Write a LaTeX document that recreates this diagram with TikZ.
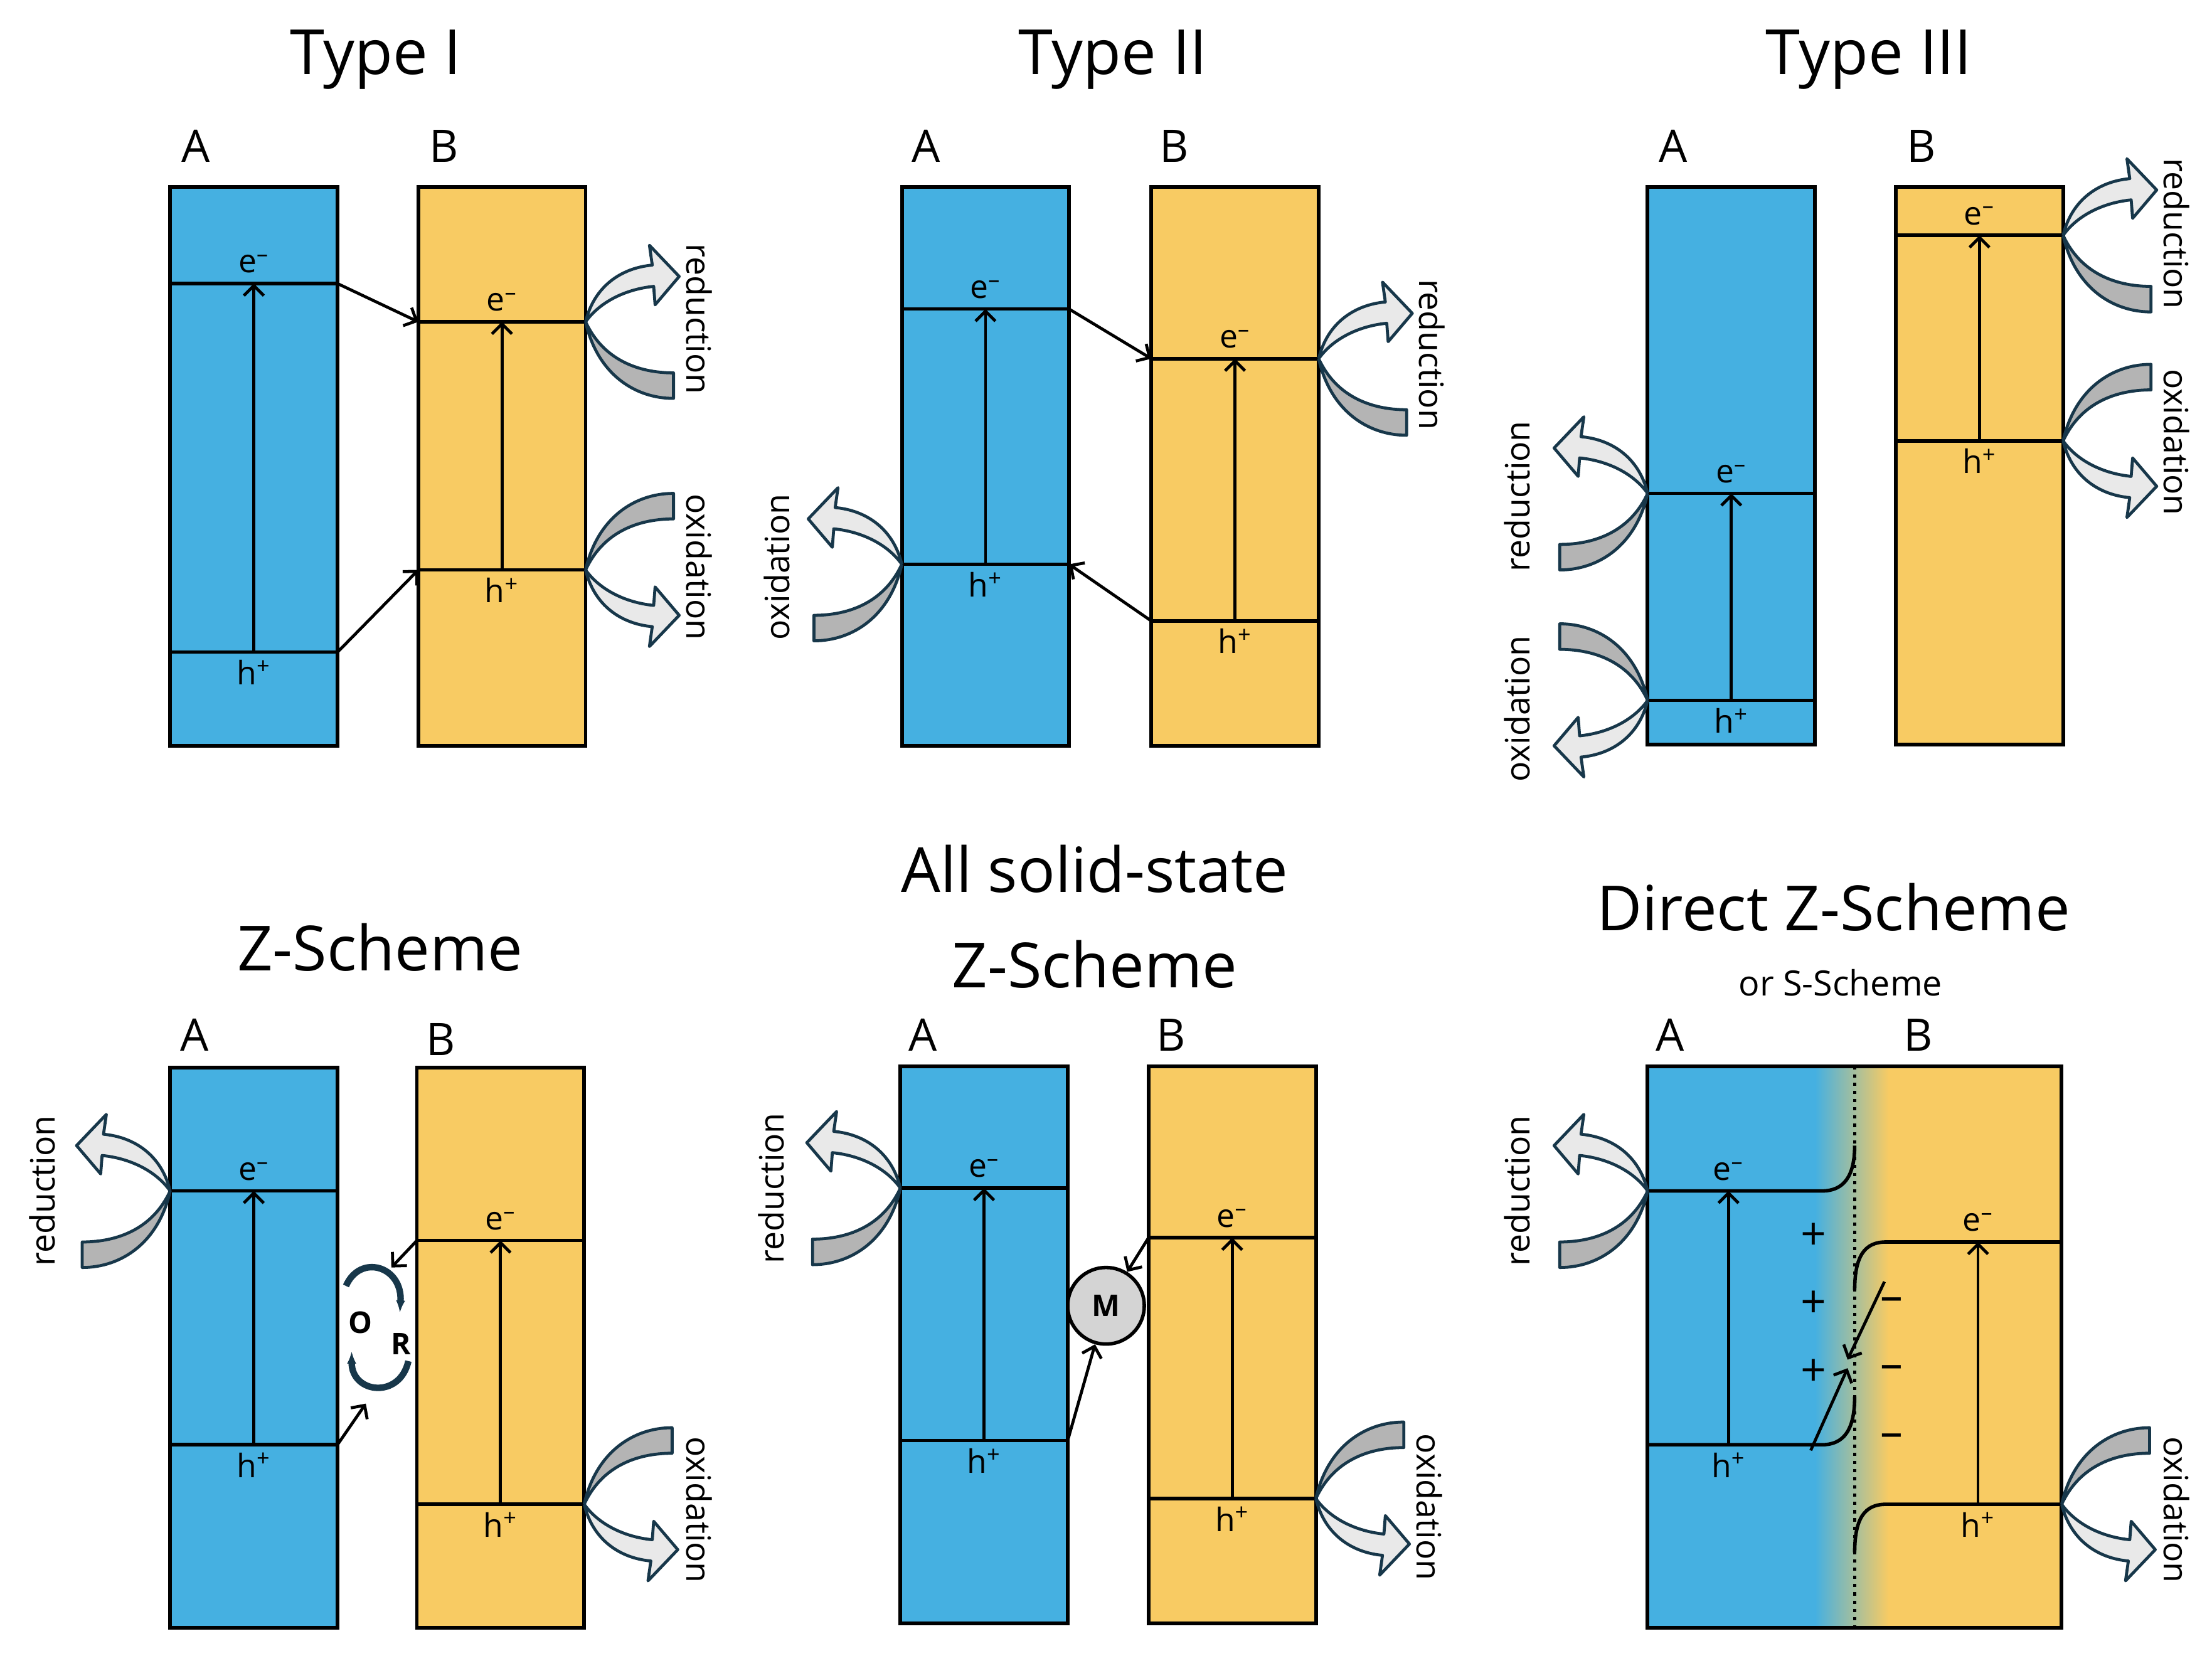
\documentclass[tikz,border=0pt]{standalone}
\usepackage{fontspec}
\setmainfont{Open Sans}
\usetikzlibrary{arrows.meta}
\definecolor{bandA}{HTML}{45B0E1}
\definecolor{bandB}{HTML}{F8CB63}
\definecolor{rdline}{HTML}{17374A}
\definecolor{tailgray}{HTML}{B4B4B4}
\definecolor{headgray}{HTML}{E9E9E9}
\tikzset{
  box/.style={draw=black,line width=1.5pt},
  level/.style={draw=black,line width=1.4pt},
  exc/.style={->,line width=1.2pt},
  redoxline/.style={draw=rdline,line width=1.2pt,line join=round},
  title/.style={font=\fontsize{25}{28}\selectfont},
  sub/.style={font=\fontsize{14}{16}\selectfont},
  side/.style={font=\fontsize{18}{20}\selectfont},
  lbl/.style={font=\fontsize{13}{14}\selectfont,inner sep=1pt},
  proc/.style={font=\fontsize{13.5}{15}\selectfont},
  or/.style={font=\bfseries\fontsize{12}{14}\selectfont,inner sep=0pt},
}
% one band box: name, left x, top, bottom, CB y, VB y, colour
\newcommand{\bandbox}[7]{%
  \fill[#7] (#2,#3) rectangle (#2+118,#4);
  \draw[box] (#2,#3) rectangle (#2+118,#4);
  \coordinate (#1-cl) at (#2,#5);
  \coordinate (#1-cr) at (#2+118,#5);
  \coordinate (#1-vl) at (#2,#6);
  \coordinate (#1-vr) at (#2+118,#6);
  \coordinate (#1-cm) at (#2+59,#5);
  \coordinate (#1-vm) at (#2+59,#6);
  \draw[level] (#1-cl) -- (#1-cr);
  \draw[level] (#1-vl) -- (#1-vr);
  \draw[exc] (#1-vm) -- (#1-cm);
  \node[lbl,above=3pt] (#1-e) at (#1-cm) {e\textsuperscript{–}};
  \node[lbl,below=2pt] (#1-h) at (#1-vm) {h\textsuperscript{+}};
}
% curved redox arrow: x, y, xscale, yscale
\newcommand{\redox}[4]{%
  \begin{scope}[shift={(#1,#2)},xscale=#3,yscale=#4]
    \filldraw[redoxline,fill=tailgray] (0,0) .. controls (8,36) and (34,54) .. (62,54)
      -- (62,36) .. controls (36,36) and (12,26) .. (0,0);
    \filldraw[redoxline,fill=headgray] (0,0) .. controls (6,-25) and (25,-38) .. (47,-40)
      -- (45,-54) -- (66,-32) -- (49,-12) -- (48,-25) .. controls (28,-23) and (10,-14) .. (0,0);
  \end{scope}}
\begin{document}
\begin{tikzpicture}[x=0.02cm,y=-0.02cm,>={Straight Barb[length=4pt,width=8pt]}]
\useasboundingbox (0,0) rectangle (1560,1168);
% Type I
\node[title] (t1) at (265,42) {Type I};
\node[side] (a1) at (138,103) {A};
\node[side] (b1) at (313,103) {B};
\bandbox{A1}{120}{132}{526}{200}{460}{bandA}
\bandbox{B1}{295}{132}{526}{227}{402}{bandB}
\draw[exc] (A1-cr) -- (B1-cl);
\draw[exc] (A1-vr) -- (B1-vl);
\redox{413}{227}{1}{1}
\redox{413}{402}{1}{-1}
\node[proc,rotate=-90] (r1) at (493,225) {reduction};
\node[proc,rotate=-90] (o1) at (493,400) {oxidation};
% Type II
\node[title] (t2) at (785,42) {Type II};
\node[side] (a2) at (653,103) {A};
\node[side] (b2) at (828,103) {B};
\bandbox{A2}{636}{132}{526}{218}{398}{bandA}
\bandbox{B2}{812}{132}{526}{253}{438}{bandB}
\draw[exc] (A2-cr) -- (B2-cl);
\draw[exc] (B2-vl) -- (A2-vr);
\redox{930}{253}{1}{1}
\redox{636}{398}{-1}{1}
\node[proc,rotate=-90] (r2) at (1010,250) {reduction};
\node[proc,rotate=90] (o2) at (548,400) {oxidation};
% Type III
\node[title] (t3) at (1318,42) {Type III};
\node[side] (a3) at (1180,103) {A};
\node[side] (b3) at (1355,103) {B};
\bandbox{A3}{1162}{132}{525}{348}{494}{bandA}
\bandbox{B3}{1337}{132}{525}{166}{311}{bandB}
\redox{1455}{166}{1}{1}
\redox{1455}{311}{1}{-1}
\redox{1162}{348}{-1}{1}
\redox{1162}{494}{-1}{-1}
\node[proc,rotate=-90] (r3) at (1535,165) {reduction};
\node[proc,rotate=-90] (o3) at (1535,312) {oxidation};
\node[proc,rotate=90] (r3l) at (1070,350) {reduction};
\node[proc,rotate=90] (o3l) at (1070,500) {oxidation};
% Z-Scheme
\node[title] (t4) at (268,668) {Z-Scheme};
\node[side] (a4) at (137,730) {A};
\node[side] (b4) at (311,733) {B};
\bandbox{A4}{120}{753}{1148}{840}{1019}{bandA}
\bandbox{B4}{294}{753}{1148}{875}{1061}{bandB}
\node[or] (ox) at (254,933) {O};
\node[or] (rd) at (283,948) {R};
\coordinate (zt) at (276,894);
\coordinate (zb) at (258,990);
\draw[exc] (B4-cl) -- (zt);
\draw[exc] (A4-vr) -- (zb);
\draw[rdline,line width=2.6pt,-{Latex[length=5pt]}] (244,907) .. controls (254,884) and (284,893) .. (282,926);
\draw[rdline,line width=2.6pt,-{Latex[length=5pt]}] (288,960) .. controls (282,987) and (248,983) .. (248,953);
\redox{120}{840}{-1}{1}
\redox{412}{1061}{1}{-1}
\node[proc,rotate=90] (r4) at (30,840) {reduction};
\node[proc,rotate=-90] (o4) at (493,1065) {oxidation};
% All solid-state Z-Scheme
\node[title] (t5a) at (772,613) {All solid-state};
\node[title] (t5b) at (772,680) {Z-Scheme};
\node[side] (a5) at (651,730) {A};
\node[side] (b5) at (826,730) {B};
\bandbox{A5}{635}{752}{1145}{838}{1016}{bandA}
\bandbox{B5}{810}{752}{1145}{873}{1057}{bandB}
\node[circle,draw=black,line width=1.4pt,fill=headgray!80!gray,minimum size=54*0.02cm,inner sep=0pt,font=\bfseries\fontsize{12}{14}\selectfont] (m) at (780,921) {M};
\draw[exc] (B5-cl) -- (m);
\draw[exc] (A5-vr) -- (m);
\redox{635}{838}{-1}{1}
\redox{928}{1057}{1}{-1}
\node[proc,rotate=90] (r5) at (544,838) {reduction};
\node[proc,rotate=-90] (o5) at (1008,1063) {oxidation};
% Direct Z-Scheme
\node[title] (t6) at (1293,640) {Direct Z-Scheme};
\node[sub] (t6s) at (1298,693) {or S-Scheme};
\node[side] (a6) at (1178,730) {A};
\node[side] (b6) at (1353,730) {B};
\fill[bandA] (1162,752) rectangle (1280,1148);
\shade[left color=bandA,right color=bandB] (1280,752) rectangle (1332,1148);
\fill[bandB] (1332,752) rectangle (1454,1148);
\draw[box] (1162,752) rectangle (1454,1148);
\draw[line width=1.3pt,dotted] (1308,752) -- (1308,1148);
\coordinate (A6-cl) at (1162,840);
\coordinate (A6-vl) at (1162,1019);
\coordinate (B6-cr) at (1454,876);
\coordinate (B6-vr) at (1454,1061);
\draw[level] (A6-cl) -- (1285,840) .. controls (1300,840) and (1308,830) .. (1308,808);
\draw[level] (A6-vl) -- (1285,1019) .. controls (1300,1019) and (1308,1009) .. (1308,985);
\draw[level] (B6-cr) -- (1330,876) .. controls (1315,876) and (1308,886) .. (1308,910);
\draw[level] (B6-vr) -- (1330,1061) .. controls (1315,1061) and (1308,1071) .. (1308,1095);
\coordinate (A6-vm) at (1219,1019);
\coordinate (A6-cm) at (1219,840);
\coordinate (B6-vm) at (1395,1061);
\coordinate (B6-cm) at (1395,876);
\draw[exc] (A6-vm) -- (A6-cm);
\draw[exc] (B6-vm) -- (B6-cm);
\node[lbl,above=3pt] (A6-e) at (A6-cm) {e\textsuperscript{–}};
\node[lbl,below=2pt] (A6-h) at (A6-vm) {h\textsuperscript{+}};
\node[lbl,above=3pt] (B6-e) at (B6-cm) {e\textsuperscript{–}};
\node[lbl,below=2pt] (B6-h) at (B6-vm) {h\textsuperscript{+}};
\foreach \y [count=\i] in {872,920,968}
  \node[side] (p\i) at (1279,\y) {+};
\foreach \y [count=\i] in {920,968,1016}
  \node[side] (n\i) at (1334,\y) {–};
\coordinate (s1) at (1329,904);
\coordinate (s2) at (1303,959);
\coordinate (s3) at (1277,1023);
\coordinate (s4) at (1303,965);
\draw[exc] (s1) -- (s2);
\draw[exc] (s3) -- (s4);
\redox{1162}{840}{-1}{1}
\redox{1454}{1061}{1}{-1}
\node[proc,rotate=90] (r6) at (1070,840) {reduction};
\node[proc,rotate=-90] (o6) at (1535,1065) {oxidation};
\end{tikzpicture}
\end{document}
